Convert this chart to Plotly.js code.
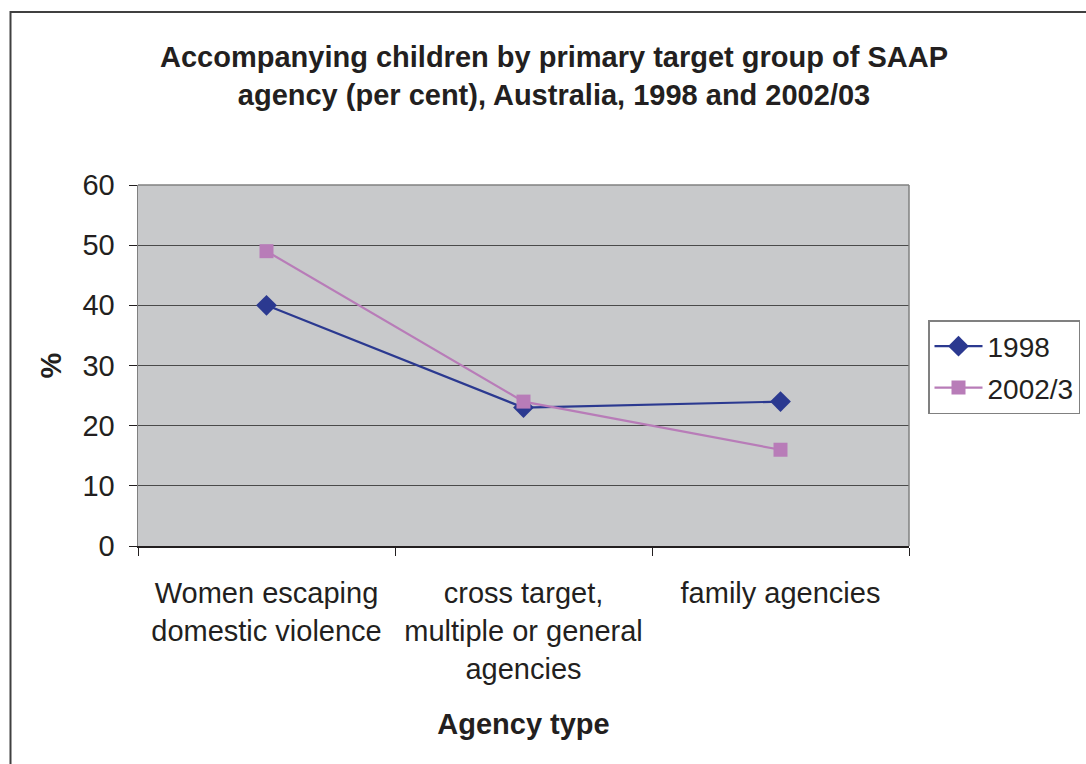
<!DOCTYPE html>
<html>
<head>
<meta charset="utf-8">
<script src="https://cdn.plot.ly/plotly-3.0.1.min.js"></script>
<style>
html,body{margin:0;padding:0;background:#fff;}
#chart{width:1086px;height:764px;}
</style>
</head>
<body>
<div id="chart"></div>
<script>
var categories = ["Women escaping<br>domestic violence", "cross target,<br>multiple or general<br>agencies", "family agencies"];
var series1998 = [40, 23, 24];
var series2002 = [49, 24, 16];
var seriesNames = ["1998", "2002/3"];
var yTicks = [0, 10, 20, 30, 40, 50, 60];

var FONT = "Liberation Sans, Arial, Helvetica, sans-serif";
var TXT = "#231f20";

var traces = [
  {
    x: categories, y: series1998, name: seriesNames[0], type: "scatter", mode: "lines+markers",
    legendgroup: "a",
    line: {color: "#2b3990", width: 2.2},
    marker: {symbol: "diamond", size: 16, color: "#2b3990"}
  },
  {
    x: categories, y: series2002, name: seriesNames[1], type: "scatter", mode: "lines+markers",
    legendgroup: "b",
    line: {color: "#b87cb8", width: 2.2},
    marker: {symbol: "square", size: 14, color: "#b87cb8"}
  }
];

var layout = {
  width: 1086, height: 764,
  paper_bgcolor: "#ffffff",
  plot_bgcolor: "#c8c9cb",
  margin: {l: 138, r: 177, t: 185, b: 218, autoexpand: false},
  font: {family: FONT, color: TXT},
  title: {
    text: "<b>Accompanying children by primary target group of SAAP<br>agency (per cent), Australia, 1998 and 2002/03</b>",
    font: {family: FONT, size: 29, color: TXT},
    xanchor: "center", yanchor: "top"
  },
  xaxis: {
    type: "category",
    range: [-0.5, 2.5],
    tickson: "boundaries",
    ticks: "outside", ticklen: 8, tickcolor: "#231f20", tickwidth: 1,
    ticklabelstandoff: 21,
    showline: true, linecolor: "#231f20", linewidth: 1.5,
    showgrid: false,
    tickfont: {family: FONT, size: 29, color: TXT},
    title: {text: "<b>Agency type</b>", font: {family: FONT, size: 29, color: TXT}, standoff: 30},
    fixedrange: true
  },
  yaxis: {
    range: [0, 60],
    tickvals: yTicks,
    ticks: "outside", ticklen: 8, tickcolor: "#231f20", tickwidth: 1,
    ticklabelstandoff: 8,
    showline: true, linecolor: "#808080", linewidth: 1.5,
    showgrid: true, gridcolor: "#4a4a4a", gridwidth: 1.2,
    zeroline: false,
    tickfont: {family: FONT, size: 29, color: TXT},
    title: {text: "<b>%</b>", font: {family: FONT, size: 29, color: TXT}, standoff: 12},
    fixedrange: true
  },
  legend: {
    xanchor: "left", yanchor: "top",
    bordercolor: "#808080", borderwidth: 1.5, bgcolor: "#ffffff",
    font: {family: FONT, size: 28, color: TXT},
    tracegroupgap: 2,
    itemwidth: 48
  },
  showlegend: true,
  shapes: []
};

// convert pixel positions to paper coords
var pw = 1086 - 138 - 177, ph = 764 - 185 - 218;
function px2x(p){ return (p - 138) / pw; }
function py2y(p){ return (764 - 218 - p) / ph; }
layout.title.x = px2x(554);
layout.title.xref = "paper";
layout.title.y = 1 - 67/764; layout.title.yref = "container";
layout.legend.x = px2x(928);
layout.legend.y = py2y(320);
layout.shapes.push({type: "rect", xref: "paper", yref: "paper", x0: px2x(10.5), x1: px2x(1100), y0: py2y(780), y1: py2y(12), line: {color: "#404040", width: 2}, fillcolor: "rgba(0,0,0,0)", layer: "below"});
// top and right plot border
layout.shapes.push({type: "line", xref: "paper", yref: "paper", x0: 0, x1: 1, y0: 1, y1: 1, line: {color: "#808080", width: 1.5}});
layout.shapes.push({type: "line", xref: "paper", yref: "paper", x0: 1, x1: 1, y0: 0, y1: 1, line: {color: "#808080", width: 1.5}});

Plotly.newPlot("chart", traces, layout, {displayModeBar: false, staticPlot: true});
</script>
</body>
</html>
